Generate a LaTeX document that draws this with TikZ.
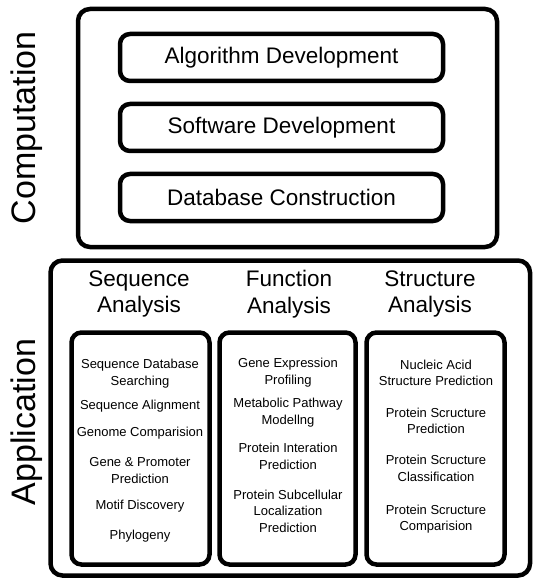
\documentclass[tikz,border=0pt]{standalone}
\usepackage{fontspec}
\setmainfont{Liberation Sans}
\begin{document}
\begin{tikzpicture}[x=1pt,y=-1pt,
  outerbox/.style={draw,line width=4.5pt,rounded corners=12pt,inner sep=0pt},
  compbox/.style={draw,line width=4.5pt,rounded corners=10pt,minimum width=323pt,minimum height=47pt,inner sep=0pt,font=\fontsize{22.5}{27}\selectfont},
  colbox/.style={draw,line width=4.5pt,rounded corners=10pt,minimum height=232pt,inner sep=0pt},
  sidelabel/.style={rotate=90,anchor=base,inner sep=0pt,font=\fontsize{34}{40}\selectfont},
  heading/.style={align=center,inner sep=0pt,font=\fontsize{22.5}{26.5}\selectfont},
  item/.style={align=center,inner sep=0pt,font=\fontsize{13}{16.5}\selectfont}]
\useasboundingbox (0,0) rectangle (544,585);

% Computation
\node[outerbox,minimum width=419pt,minimum height=238pt] (comp) at (287.5,128) {};
\node[compbox] (alg) at (281.5,57.5) {Algorithm Development};
\node[compbox] (soft) at (281.5,127.5) {Software Development};
\node[compbox] (db) at (281.5,197.5) {Database Construction};
\node[sidelabel] (complabel) at (35,128) {Computation};

% Application
\node[outerbox,minimum width=479.5pt,minimum height=315pt] (app) at (290.25,418) {};
\node[sidelabel] (applabel) at (35,422) {Application};

\node[heading] (hseq) at (139,294) {Sequence\\Analysis};
\node[heading] (hfun) at (289,294) {Function\\Analysis};
\node[heading] (hstr) at (430,294) {Structure\\Analysis};

\node[colbox,minimum width=138pt] (seq) at (140.5,448.5) {};
\node[colbox,minimum width=136pt] (fun) at (287.5,448.5) {};
\node[colbox,minimum width=138pt] (str) at (435.5,448.5) {};

% Sequence items
\node[item] (s1) at (140,373.5) {Sequence Database\\Searching};
\node[item] (s2) at (140,406) {Sequence Alignment};
\node[item] (s3) at (140,433) {Genome Comparision};
\node[item] (s4) at (140,470.5) {Gene \& Promoter\\Prediction};
\node[item] (s5) at (140,506) {Motif Discovery};
\node[item] (s6) at (140,536) {Phylogeny};

% Function items
\node[item] (f1) at (288,372.5) {Gene Expression\\Profiling};
\node[item] (f2) at (288,412.5) {Metabolic Pathway\\Modellng};
\node[item] (f3) at (288,456.5) {Protein Interation\\Prediction};
\node[item] (f4) at (288,511) {Protein Subcellular\\Localization\\Prediction};

% Structure items
\node[item] (t1) at (436,373) {Nucleic Acid\\Structure Prediction};
\node[item] (t2) at (436,421) {Protein Scructure\\Prediction};
\node[item] (t3) at (436,468.5) {Protein Scructure\\Classification};
\node[item] (t4) at (436,519) {Protein Scructure\\Comparision};
\end{tikzpicture}
\end{document}
